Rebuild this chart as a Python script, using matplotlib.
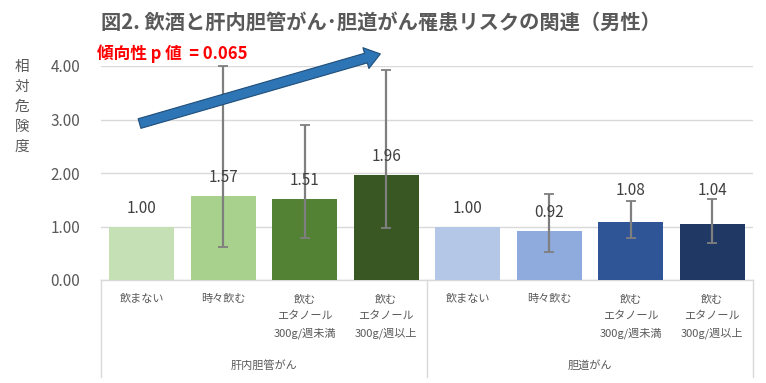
import numpy as np
import matplotlib.pyplot as plt
from matplotlib.patches import FancyArrowPatch
from matplotlib.transforms import blended_transform_factory

plt.rcParams['font.family'] = ['Noto Sans CJK JP', 'DejaVu Sans']

# data
groups = ['肝内胆管がん', '胆道がん']
categories = ['飲まない', '時々飲む', '飲む\nエタノール\n300g/週未満', '飲む\nエタノール\n300g/週以上'] * 2
rr = [1.00, 1.57, 1.51, 1.96, 1.00, 0.92, 1.08, 1.04]
ci_low = [np.nan, 0.61, 0.78, 0.98, np.nan, 0.53, 0.78, 0.70]
ci_high = [np.nan, 4.00, 2.89, 3.92, np.nan, 1.60, 1.48, 1.51]
colors = ['#C5E0B4', '#A9D18E', '#548235', '#385723',
          '#B4C7E7', '#8FAADC', '#2F5597', '#203864']
yticks = [0.0, 1.0, 2.0, 3.0, 4.0]
# label offsets in points (last two nudged up above the caps, as in the original)
label_offsets = [7, 7, 7, 7, 7, 7, 16.5, 18]

fig = plt.figure(figsize=(7.66, 3.83), dpi=100)
ax = fig.add_axes([101 / 766, 1 - 280 / 383, 652 / 766, 214 / 383])

x = np.arange(len(rr))
ax.bar(x, rr, width=0.8, color=colors, zorder=2)

# error bars (skip reference groups)
lo = np.array(rr) - np.array(ci_low)
hi = np.array(ci_high) - np.array(rr)
ax.errorbar(x, rr, yerr=[lo, hi], fmt='none', ecolor='#7F7F7F',
            elinewidth=1.6, capsize=3.5, capthick=1.3, zorder=3, clip_on=False)

for xi, v, off in zip(x, rr, label_offsets):
    ax.annotate(f'{v:.2f}', (xi, v), xytext=(0, off), textcoords='offset points',
                ha='center', va='bottom', fontsize=11, color='#404040', zorder=4)

ax.set_xlim(-0.5, 7.5)
ax.set_ylim(0, 4.0)
ax.set_yticks(yticks)
ax.set_yticklabels([f'{t:.2f}' for t in yticks], fontsize=11, color='#595959')
ax.tick_params(axis='y', length=0, pad=15)
ax.set_xticks([])
ax.grid(axis='y', color='#D9D9D9', linewidth=1, zorder=0)
for s in ax.spines.values():
    s.set_visible(False)

# category labels and group separators
tr = blended_transform_factory(ax.transData, ax.transAxes)
for xi, c in zip(x, categories):
    ax.text(xi, -0.065, c, transform=tr, ha='center', va='top', fontsize=8,
            color='#595959', linespacing=1.8)
for gi, g in enumerate(groups):
    ax.text(1.5 + gi * 4, -0.40, g, transform=tr, ha='center', va='center',
            fontsize=8, color='#595959')
for xs in [-0.5, 3.5, 7.5]:
    ax.plot([xs, xs], [0, -0.455], transform=tr, color='#D9D9D9',
            linewidth=1, clip_on=False)
ax.plot([-0.5, 7.5], [0, 0], transform=tr, color='#D9D9D9', linewidth=1,
        clip_on=False, zorder=1)

# y label (vertical stacked)
fig.text(22 / 766, 1 - 107 / 383, '\n'.join('相対危険度'), ha='center',
         va='center', fontsize=10.5, color='#595959', linespacing=1.55)

# title
fig.text(381 / 766, 1 - 22 / 383,
         '図2. 飲酒と肝内胆管がん･胆道がん罹患リスクの関連（男性）',
         ha='center', va='center', fontsize=14.6, fontweight='bold', color='#595959')

# trend annotation
fig.text(97 / 766, 1 - 54 / 383, '傾向性 p 値  = 0.065', ha='left', va='center',
         fontsize=12, fontweight='bold', color='#FF0000')
arrow = FancyArrowPatch((-0.06, 2.91), (2.96, 4.24),
                        arrowstyle='simple,head_length=0.9,head_width=1.3,tail_width=0.6',
                        mutation_scale=12, facecolor='#2E75B6', edgecolor='#1F4E79',
                        linewidth=0.8, clip_on=False, zorder=5)
ax.add_patch(arrow)

fig.savefig('out.png', dpi=100)
